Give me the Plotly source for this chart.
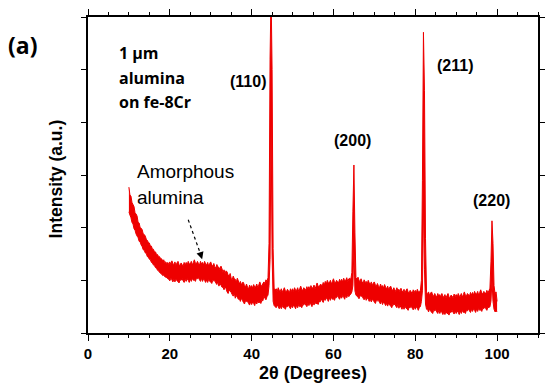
import plotly.graph_objects as go

# ---- data ----
scan_start = 10.0   # 2-theta start (deg)
scan_step = 0.25    # 2-theta step (deg)

# upper edge of the noisy XRD trace (a.u.)
intensity_upper = [
    2.77, 2.62, 2.60, 2.48,  2.44, 2.40, 2.28, 2.26,   # 10-11
    2.22, 2.10, 2.09, 2.00,  1.99, 1.96, 1.88, 1.87,   # 12-13
    1.84, 1.78, 1.76, 1.72,  1.71, 1.65, 1.65, 1.59,   # 14-15
    1.59, 1.54, 1.54, 1.49,  1.49, 1.45, 1.45, 1.41,   # 16-17
    1.41, 1.37, 1.39, 1.34,  1.35, 1.32, 1.34, 1.30,   # 18-19
    1.35, 1.30, 1.37, 1.32,  1.30, 1.35, 1.28, 1.33,   # 20-21
    1.36, 1.30, 1.28, 1.33,  1.30, 1.27, 1.34, 1.29,   # 22-23
    1.34, 1.29, 1.36, 1.31,  1.31, 1.36, 1.29, 1.34,   # 24-25
    1.39, 1.33, 1.31, 1.36,  1.32, 1.29, 1.36, 1.31,   # 26-27
    1.34, 1.29, 1.36, 1.31,  1.29, 1.34, 1.27, 1.32,   # 28-29
    1.35, 1.29, 1.27, 1.32,  1.26, 1.23, 1.30, 1.25,   # 30-31
    1.25, 1.20, 1.27, 1.22,  1.15, 1.20, 1.13, 1.18,   # 32-33
    1.16, 1.10, 1.08, 1.13,  1.04, 1.01, 1.08, 1.03,   # 34-35
    1.02, 0.97, 1.04, 0.99,  0.93, 0.98, 0.91, 0.96,   # 36-37
    0.96, 0.90, 0.88, 0.93,  0.87, 0.84, 0.91, 0.86,   # 38-39
    0.90, 0.85, 0.92, 0.87,  0.88, 0.93, 0.86, 0.91,   # 40-41
    0.97, 0.91, 0.89, 0.94,  0.97, 0.94, 1.01, 0.98,   # 42-43
    1.05, 1.70, 5.20, 6.50,  5.00, 1.60, 0.85, 0.82,   # 44-45 (110)
    0.84, 0.79, 0.86, 0.81,  0.79, 0.84, 0.77, 0.82,   # 46-47
    0.86, 0.80, 0.78, 0.83,  0.80, 0.77, 0.84, 0.79,   # 48-49
    0.84, 0.79, 0.86, 0.81,  0.81, 0.86, 0.79, 0.84,   # 50-51
    0.89, 0.83, 0.81, 0.86,  0.84, 0.81, 0.88, 0.83,   # 52-53
    0.88, 0.83, 0.90, 0.85,  0.86, 0.91, 0.84, 0.89,   # 54-55
    0.95, 0.89, 0.87, 0.92,  0.92, 0.89, 0.96, 0.91,   # 56-57
    0.98, 0.93, 1.00, 0.95,  0.95, 1.00, 0.93, 0.98,   # 58-59
    1.03, 0.97, 0.95, 1.00,  0.98, 0.95, 1.02, 0.97,   # 60-61
    1.02, 0.97, 1.04, 0.99,  1.00, 1.05, 0.98, 1.03,   # 62-63
    1.04, 1.02, 1.15, 2.30,  3.19, 1.90, 1.05, 1.02,   # 64-65 (200)
    1.06, 1.00, 0.98, 1.03,  0.97, 0.94, 1.01, 0.96,   # 66-67
    0.98, 0.93, 1.00, 0.95,  0.92, 0.97, 0.90, 0.95,   # 68-69
    0.97, 0.91, 0.89, 0.94,  0.89, 0.86, 0.93, 0.88,   # 70-71
    0.90, 0.85, 0.92, 0.87,  0.84, 0.89, 0.82, 0.87,   # 72-73
    0.89, 0.83, 0.81, 0.86,  0.82, 0.79, 0.86, 0.81,   # 74-75
    0.83, 0.78, 0.85, 0.80,  0.78, 0.83, 0.76, 0.81,   # 76-77
    0.84, 0.78, 0.76, 0.81,  0.78, 0.75, 0.82, 0.77,   # 78-79
    0.81, 0.76, 0.83, 0.78,  0.79, 0.80, 1.00, 2.90,   # 80-81
    5.71, 4.60, 1.80, 0.78,  0.73, 0.78, 0.71, 0.76,   # 82-83 (211)
    0.78, 0.72, 0.70, 0.75,  0.71, 0.68, 0.75, 0.70,   # 84-85
    0.73, 0.68, 0.75, 0.70,  0.68, 0.73, 0.66, 0.71,   # 86-87
    0.75, 0.69, 0.67, 0.72,  0.70, 0.67, 0.74, 0.69,   # 88-89
    0.73, 0.68, 0.75, 0.70,  0.70, 0.75, 0.68, 0.73,   # 90-91
    0.78, 0.72, 0.70, 0.75,  0.73, 0.70, 0.77, 0.72,   # 92-93
    0.77, 0.72, 0.79, 0.74,  0.74, 0.79, 0.72, 0.77,   # 94-95
    0.82, 0.76, 0.74, 0.79,  0.77, 0.74, 0.81, 0.76,   # 96-97
    0.80, 0.85, 1.35, 2.13,  1.70, 0.90, 0.75, 0.78,   # 98-99 (220)
    0.60,                                              # 100
]
# lower edge of the noisy XRD trace (a.u.)
intensity_lower = [
    2.30, 2.24, 2.19, 2.10,  2.07, 1.98, 1.95, 1.88,   # 10-11
    1.84, 1.81, 1.74, 1.73,  1.67, 1.64, 1.58, 1.57,   # 12-13
    1.52, 1.51, 1.45, 1.44,  1.40, 1.39, 1.34, 1.33,   # 14-15
    1.29, 1.28, 1.24, 1.23,  1.19, 1.18, 1.15, 1.13,   # 16-17
    1.12, 1.09, 1.10, 1.07,  1.06, 1.05, 1.03, 1.02,   # 18-19
    0.99, 1.04, 1.01, 0.97,  1.02, 0.97, 1.03, 0.99,   # 20-21
    0.98, 0.95, 1.01, 1.00,  1.03, 0.99, 0.96, 1.02,   # 22-23
    0.98, 1.03, 1.00, 0.96,  1.03, 0.98, 1.04, 1.00,   # 24-25
    1.01, 0.98, 1.04, 1.03,  1.05, 1.01, 0.98, 1.04,   # 26-27
    0.98, 1.03, 1.00, 0.96,  1.01, 0.96, 1.02, 0.98,   # 28-29
    0.97, 0.94, 1.00, 0.99,  0.99, 0.95, 0.92, 0.98,   # 30-31
    0.89, 0.94, 0.91, 0.87,  0.87, 0.82, 0.88, 0.84,   # 32-33
    0.78, 0.75, 0.81, 0.80,  0.77, 0.73, 0.70, 0.76,   # 34-35
    0.66, 0.71, 0.68, 0.64,  0.65, 0.60, 0.66, 0.62,   # 36-37
    0.58, 0.55, 0.61, 0.60,  0.60, 0.56, 0.53, 0.59,   # 38-39
    0.54, 0.59, 0.56, 0.52,  0.60, 0.55, 0.61, 0.57,   # 40-41
    0.59, 0.56, 0.62, 0.61,  0.70, 0.66, 0.63, 0.69,   # 42-43
    0.72, 0.90, 1.40, 4.00,  1.50, 0.60, 0.52, 0.50,   # 44-45 (110)
    0.48, 0.53, 0.50, 0.46,  0.51, 0.46, 0.52, 0.48,   # 46-47
    0.48, 0.45, 0.51, 0.50,  0.53, 0.49, 0.46, 0.52,   # 48-49
    0.48, 0.53, 0.50, 0.46,  0.53, 0.48, 0.54, 0.50,   # 50-51
    0.51, 0.48, 0.54, 0.53,  0.57, 0.53, 0.50, 0.56,   # 52-53
    0.52, 0.57, 0.54, 0.50,  0.58, 0.53, 0.59, 0.55,   # 54-55
    0.57, 0.54, 0.60, 0.59,  0.65, 0.61, 0.58, 0.64,   # 56-57
    0.62, 0.67, 0.64, 0.60,  0.67, 0.62, 0.68, 0.64,   # 58-59
    0.65, 0.62, 0.68, 0.67,  0.71, 0.67, 0.64, 0.70,   # 60-61
    0.66, 0.71, 0.68, 0.64,  0.72, 0.67, 0.73, 0.69,   # 62-63
    0.72, 0.74, 0.78, 0.90,  1.60, 0.80, 0.72, 0.70,   # 64-65 (200)
    0.68, 0.65, 0.71, 0.70,  0.70, 0.66, 0.63, 0.69,   # 66-67
    0.62, 0.67, 0.64, 0.60,  0.64, 0.59, 0.65, 0.61,   # 68-69
    0.59, 0.56, 0.62, 0.61,  0.62, 0.58, 0.55, 0.61,   # 70-71
    0.54, 0.59, 0.56, 0.52,  0.56, 0.51, 0.57, 0.53,   # 72-73
    0.51, 0.48, 0.54, 0.53,  0.55, 0.51, 0.48, 0.54,   # 74-75
    0.47, 0.52, 0.49, 0.45,  0.50, 0.45, 0.51, 0.47,   # 76-77
    0.46, 0.43, 0.49, 0.48,  0.51, 0.47, 0.44, 0.50,   # 78-79
    0.45, 0.50, 0.47, 0.43,  0.49, 0.50, 0.60, 0.80,   # 80-81
    2.50, 1.20, 0.55, 0.45,  0.45, 0.40, 0.46, 0.42,   # 82-83 (211)
    0.39, 0.37, 0.43, 0.42,  0.44, 0.40, 0.37, 0.43,   # 84-85
    0.37, 0.42, 0.39, 0.35,  0.40, 0.35, 0.41, 0.37,   # 86-87
    0.37, 0.34, 0.40, 0.39,  0.43, 0.39, 0.36, 0.42,   # 88-89
    0.37, 0.42, 0.39, 0.35,  0.42, 0.37, 0.43, 0.39,   # 90-91
    0.40, 0.37, 0.43, 0.42,  0.46, 0.42, 0.39, 0.45,   # 92-93
    0.41, 0.46, 0.43, 0.39,  0.46, 0.41, 0.47, 0.43,   # 94-95
    0.44, 0.41, 0.47, 0.46,  0.50, 0.46, 0.43, 0.49,   # 96-97
    0.48, 0.50, 0.60, 1.00,  0.60, 0.45, 0.40, 0.42,   # 98-99 (220)
    0.40,                                              # 100
]
two_theta = [scan_start + scan_step * i for i in range(len(intensity_upper))]

x_tick_vals = [0, 20, 40, 60, 80, 100]
x_tick_text = ["0", "20", "40", "60", "80", "100"]

peak_labels = ["(110)", "(200)", "(211)", "(220)"]
peak_label_x = [39.0, 64.7, 89.8, 98.7]
peak_label_y = [4.77, 3.66, 5.07, 2.51]

# ---- figure ----
RED = "#ee0000"
fig = go.Figure()
fig.add_trace(go.Scatter(x=two_theta, y=intensity_upper, mode="lines",
                         line=dict(color=RED, width=1, simplify=False),
                         showlegend=False, hoverinfo="skip"))
fig.add_trace(go.Scatter(x=two_theta, y=intensity_lower, mode="lines",
                         line=dict(color=RED, width=1, simplify=False),
                         fill="tonexty", fillcolor=RED,
                         showlegend=False, hoverinfo="skip"))

axis_common = dict(showline=True, linecolor="black", linewidth=1.5,
                   mirror="ticks", ticks="outside", tickcolor="black",
                   tickwidth=1.2, showgrid=False, zeroline=False)

fig.update_xaxes(range=[0, 110], tickvals=x_tick_vals, ticktext=x_tick_text,
                 ticklen=6,
                 minor=dict(dtick=5, tick0=0, ticks="outside", ticklen=3,
                            tickcolor="black", tickwidth=1, showgrid=False),
                 tickfont=dict(family="Liberation Sans, Arial", size=15,
                               color="black", weight="bold"),
                 title=dict(text="2θ (Degrees)", standoff=6,
                            font=dict(family="Liberation Sans, Arial", size=18,
                                      color="black", weight="bold")),
                 **axis_common)
fig.update_yaxes(range=[0, 6], dtick=1, tick0=0, ticklen=5,
                 showticklabels=False, **axis_common)

ann = []
# y axis title
ann.append(dict(text="Intensity (a.u.)", xref="paper", yref="paper",
                x=-0.072, y=0.488, textangle=-90, showarrow=False,
                xanchor="center", yanchor="middle",
                font=dict(family="Liberation Sans, Arial", size=17.5,
                          color="black", weight="bold")))
# panel label
ann.append(dict(text="(a)", xref="paper", yref="paper", x=-0.146, y=0.91,
                showarrow=False, xanchor="center", yanchor="middle",
                font=dict(family="Open Sans", size=23, color="black",
                          weight="bold")))
# sample description
for txt, yy in zip(["1 µm", "alumina", "on fe-8Cr"], [5.32, 4.84, 4.39]):
    ann.append(dict(text=txt, x=7.1, y=yy, xref="x", yref="y",
                    showarrow=False, xanchor="left", yanchor="middle",
                    font=dict(family="Open Sans", size=16, color="black",
                              weight="bold")))
# peak labels
for txt, px, py in zip(peak_labels, peak_label_x, peak_label_y):
    ann.append(dict(text=txt, x=px, y=py, xref="x", yref="y",
                    showarrow=False, xanchor="center", yanchor="middle",
                    font=dict(family="Liberation Sans, Arial", size=16,
                              color="black", weight="bold")))
# amorphous label
for txt, yy in zip(["Amorphous", "alumina"], [3.06, 2.58]):
    ann.append(dict(text=txt, x=11.6, y=yy, xref="x", yref="y",
                    showarrow=False, xanchor="left", yanchor="middle",
                    font=dict(family="Liberation Sans, Arial", size=19,
                              color="black")))
# arrow head for the dotted arrow
ann.append(dict(x=27.9, y=1.40, ax=27.3, ay=1.55, xref="x", yref="y",
                axref="x", ayref="y", showarrow=True, arrowhead=2,
                arrowsize=1.2, arrowwidth=1.2, arrowcolor="black", text=""))
fig.update_layout(annotations=ann)

fig.add_shape(type="line", x0=24.5, y0=2.15, x1=27.6, y1=1.48,
              xref="x", yref="y", line=dict(color="black", width=1.2,
                                            dash="dot"))

fig.update_layout(width=549, height=387,
                  margin=dict(l=88, r=4, t=17, b=54),
                  paper_bgcolor="white", plot_bgcolor="white")

fig.write_html("out.html", config={"displayModeBar": False},
               post_script="document.body.style.margin='0';"
                           "document.body.style.overflow='hidden';")
